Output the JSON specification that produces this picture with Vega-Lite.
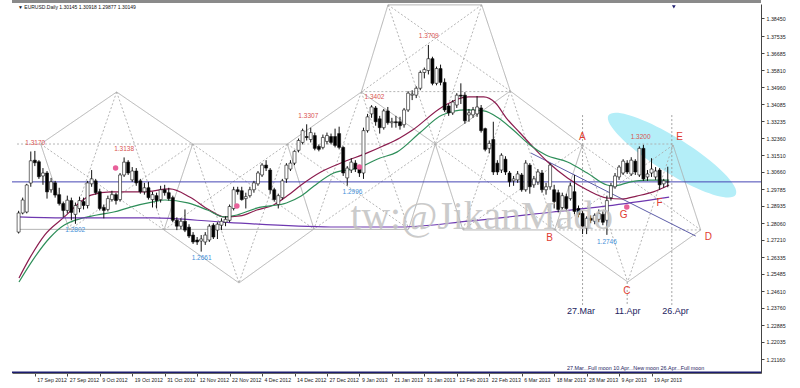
{
"$schema":"https://vega.github.io/schema/vega-lite/v6.json",
"width":749,"height":369,
"autosize":{"type":"none"},
"padding":{"left":12,"top":4,"right":39,"bottom":15},
"background":"white",
"config":{"view":{"stroke":null},"axis":{"grid":false,"title":null,"labelFont":"Liberation Sans"}},
"datasets":{
"k":[
{"i":-4,"o":1.2760,"h":1.2868,"l":1.2753,"c":1.2857},{"i":-3,"o":1.2857,"h":1.2935,"l":1.2850,"c":1.2923},{"i":-2,"o":1.2862,"h":1.3005,"l":1.2855,"c":1.2999},{"i":-1,"o":1.3009,"h":1.3169,"l":1.2990,"c":1.3122},
{"i":0,"o":1.3125,"h":1.3172,"l":1.3095,"c":1.3112},{"i":1,"o":1.3117,"h":1.3125,"l":1.3030,"c":1.3041},{"i":2,"o":1.3045,"h":1.3085,"l":1.3000,"c":1.3060},{"i":3,"o":1.3060,"h":1.3070,"l":1.2930,"c":1.2964},{"i":4,"o":1.2975,"h":1.3035,"l":1.2960,"c":1.3015},
{"i":5,"o":1.3010,"h":1.3020,"l":1.2935,"c":1.2948},{"i":6,"o":1.2950,"h":1.2985,"l":1.2895,"c":1.2905},{"i":7,"o":1.2905,"h":1.2915,"l":1.2835,"c":1.2870},{"i":8,"o":1.2870,"h":1.2945,"l":1.2855,"c":1.2922},{"i":9,"o":1.2920,"h":1.2935,"l":1.2820,"c":1.2860},
{"i":10,"o":1.2850,"h":1.2910,"l":1.2802,"c":1.2895},{"i":11,"o":1.2880,"h":1.2940,"l":1.2860,"c":1.2920},{"i":12,"o":1.2915,"h":1.2935,"l":1.2875,"c":1.2895},{"i":13,"o":1.2895,"h":1.3020,"l":1.2880,"c":1.3010},{"i":14,"o":1.3005,"h":1.3075,"l":1.2990,"c":1.3030},
{"i":15,"o":1.3020,"h":1.3030,"l":1.2950,"c":1.2960},{"i":16,"o":1.2965,"h":1.2980,"l":1.2870,"c":1.2880},{"i":17,"o":1.2885,"h":1.2900,"l":1.2830,"c":1.2870},{"i":18,"o":1.2875,"h":1.2945,"l":1.2865,"c":1.2930},{"i":19,"o":1.2925,"h":1.2970,"l":1.2915,"c":1.2950},
{"i":20,"o":1.2950,"h":1.2960,"l":1.2900,"c":1.2920},{"i":21,"o":1.2925,"h":1.3060,"l":1.2915,"c":1.3050},{"i":22,"o":1.3050,"h":1.3139,"l":1.3040,"c":1.3115},{"i":23,"o":1.3115,"h":1.3125,"l":1.3050,"c":1.3060},{"i":24,"o":1.3025,"h":1.3090,"l":1.3015,"c":1.3070},
{"i":25,"o":1.3070,"h":1.3085,"l":1.2995,"c":1.3010},{"i":26,"o":1.3020,"h":1.3030,"l":1.2955,"c":1.2965},{"i":27,"o":1.2965,"h":1.3010,"l":1.2950,"c":1.2985},{"i":28,"o":1.2985,"h":1.3015,"l":1.2925,"c":1.2935},{"i":29,"o":1.2925,"h":1.2965,"l":1.2885,"c":1.2950},
{"i":30,"o":1.2945,"h":1.2960,"l":1.2880,"c":1.2920},{"i":31,"o":1.2925,"h":1.2995,"l":1.2910,"c":1.2975},{"i":32,"o":1.2975,"h":1.3000,"l":1.2945,"c":1.2960},{"i":33,"o":1.2960,"h":1.2985,"l":1.2920,"c":1.2930},{"i":34,"o":1.2935,"h":1.2945,"l":1.2810,"c":1.2820},
{"i":35,"o":1.2820,"h":1.2835,"l":1.2770,"c":1.2790},{"i":36,"o":1.2790,"h":1.2830,"l":1.2775,"c":1.2815},{"i":37,"o":1.2815,"h":1.2875,"l":1.2760,"c":1.2770},{"i":38,"o":1.2785,"h":1.2800,"l":1.2730,"c":1.2740},{"i":39,"o":1.2745,"h":1.2760,"l":1.2700,"c":1.2710},
{"i":40,"o":1.2720,"h":1.2735,"l":1.2695,"c":1.2710},{"i":41,"o":1.2715,"h":1.2745,"l":1.2661,"c":1.2725},{"i":42,"o":1.2710,"h":1.2760,"l":1.2695,"c":1.2745},{"i":43,"o":1.2720,"h":1.2800,"l":1.2710,"c":1.2790},{"i":44,"o":1.2795,"h":1.2805,"l":1.2725,"c":1.2735},
{"i":45,"o":1.2770,"h":1.2810,"l":1.2725,"c":1.2800},{"i":46,"o":1.2795,"h":1.2830,"l":1.2770,"c":1.2815},{"i":47,"o":1.2810,"h":1.2840,"l":1.2790,"c":1.2825},{"i":48,"o":1.2820,"h":1.2900,"l":1.2810,"c":1.2890},{"i":49,"o":1.2880,"h":1.2990,"l":1.2870,"c":1.2975},
{"i":50,"o":1.2975,"h":1.2990,"l":1.2950,"c":1.2965},{"i":51,"o":1.2970,"h":1.2990,"l":1.2920,"c":1.2925},{"i":52,"o":1.2930,"h":1.2960,"l":1.2880,"c":1.2940},{"i":53,"o":1.2945,"h":1.2990,"l":1.2935,"c":1.2975},{"i":54,"o":1.2975,"h":1.3020,"l":1.2960,"c":1.3010},
{"i":55,"o":1.3005,"h":1.3070,"l":1.2995,"c":1.3060},{"i":56,"o":1.3050,"h":1.3110,"l":1.3040,"c":1.3100},{"i":57,"o":1.3100,"h":1.3125,"l":1.3070,"c":1.3085},{"i":58,"o":1.3075,"h":1.3085,"l":1.2955,"c":1.2975},{"i":59,"o":1.2975,"h":1.2985,"l":1.2915,"c":1.2925},
{"i":60,"o":1.2900,"h":1.2955,"l":1.2880,"c":1.2945},{"i":61,"o":1.2935,"h":1.3030,"l":1.2925,"c":1.3020},{"i":62,"o":1.3030,"h":1.3110,"l":1.3010,"c":1.3100},{"i":63,"o":1.3080,"h":1.3125,"l":1.3070,"c":1.3110},{"i":64,"o":1.3110,"h":1.3175,"l":1.3100,"c":1.3170},
{"i":65,"o":1.3175,"h":1.3235,"l":1.3165,"c":1.3225},{"i":66,"o":1.3215,"h":1.3285,"l":1.3205,"c":1.3275},{"i":67,"o":1.3245,"h":1.3307,"l":1.3225,"c":1.3240},{"i":68,"o":1.3230,"h":1.3290,"l":1.3215,"c":1.3265},{"i":69,"o":1.3250,"h":1.3265,"l":1.3175,"c":1.3185},
{"i":70,"o":1.3195,"h":1.3205,"l":1.3170,"c":1.3180},{"i":71,"o":1.3190,"h":1.3255,"l":1.3180,"c":1.3240},{"i":72,"o":1.3220,"h":1.3265,"l":1.3205,"c":1.3250},{"i":73,"o":1.3245,"h":1.3260,"l":1.3205,"c":1.3215},{"i":74,"o":1.3245,"h":1.3285,"l":1.3190,"c":1.3200},
{"i":75,"o":1.3260,"h":1.3295,"l":1.3180,"c":1.3190},{"i":76,"o":1.3190,"h":1.3195,"l":1.3045,"c":1.3060},{"i":77,"o":1.3035,"h":1.3095,"l":1.2996,"c":1.3085},{"i":78,"o":1.3075,"h":1.3135,"l":1.3060,"c":1.3115},{"i":79,"o":1.3110,"h":1.3125,"l":1.3065,"c":1.3080},
{"i":80,"o":1.3085,"h":1.3100,"l":1.3040,"c":1.3060},{"i":81,"o":1.3060,"h":1.3290,"l":1.3030,"c":1.3275},{"i":82,"o":1.3275,"h":1.3360,"l":1.3265,"c":1.3345},{"i":83,"o":1.3360,"h":1.3404,"l":1.3340,"c":1.3395},{"i":84,"o":1.3390,"h":1.3400,"l":1.3300,"c":1.3320},
{"i":85,"o":1.3335,"h":1.3350,"l":1.3260,"c":1.3290},{"i":86,"o":1.3290,"h":1.3385,"l":1.3280,"c":1.3375},{"i":87,"o":1.3375,"h":1.3395,"l":1.3305,"c":1.3315},{"i":88,"o":1.3315,"h":1.3340,"l":1.3290,"c":1.3320},{"i":89,"o":1.3320,"h":1.3350,"l":1.3290,"c":1.3315},
{"i":90,"o":1.3320,"h":1.3345,"l":1.3280,"c":1.3300},{"i":91,"o":1.3305,"h":1.3390,"l":1.3290,"c":1.3380},{"i":92,"o":1.3380,"h":1.3475,"l":1.3370,"c":1.3465},{"i":93,"o":1.3455,"h":1.3480,"l":1.3430,"c":1.3460},{"i":94,"o":1.3455,"h":1.3500,"l":1.3440,"c":1.3490},
{"i":95,"o":1.3490,"h":1.3580,"l":1.3480,"c":1.3570},{"i":96,"o":1.3570,"h":1.3595,"l":1.3540,"c":1.3585},{"i":97,"o":1.3580,"h":1.3710,"l":1.3560,"c":1.3640},{"i":98,"o":1.3640,"h":1.3650,"l":1.3505,"c":1.3515},{"i":99,"o":1.3515,"h":1.3600,"l":1.3505,"c":1.3590},
{"i":100,"o":1.3590,"h":1.3610,"l":1.3505,"c":1.3520},{"i":101,"o":1.3520,"h":1.3540,"l":1.3370,"c":1.3380},{"i":102,"o":1.3400,"h":1.3410,"l":1.3350,"c":1.3365},{"i":103,"o":1.3365,"h":1.3430,"l":1.3355,"c":1.3420},{"i":104,"o":1.3405,"h":1.3465,"l":1.3390,"c":1.3455},
{"i":105,"o":1.3455,"h":1.3515,"l":1.3410,"c":1.3450},{"i":106,"o":1.3455,"h":1.3470,"l":1.3310,"c":1.3325},{"i":107,"o":1.3355,"h":1.3385,"l":1.3320,"c":1.3365},{"i":108,"o":1.3355,"h":1.3395,"l":1.3340,"c":1.3380},{"i":109,"o":1.3360,"h":1.3450,"l":1.3345,"c":1.3395},
{"i":110,"o":1.3390,"h":1.3405,"l":1.3265,"c":1.3275},{"i":111,"o":1.3285,"h":1.3290,"l":1.3170,"c":1.3180},{"i":112,"o":1.3185,"h":1.3225,"l":1.3160,"c":1.3210},{"i":113,"o":1.3230,"h":1.3320,"l":1.3050,"c":1.3065},{"i":114,"o":1.3110,"h":1.3125,"l":1.3050,"c":1.3065},
{"i":115,"o":1.3075,"h":1.3160,"l":1.3060,"c":1.3150},{"i":116,"o":1.3130,"h":1.3145,"l":1.3050,"c":1.3065},{"i":117,"o":1.3060,"h":1.3070,"l":1.2990,"c":1.3015},{"i":118,"o":1.3020,"h":1.3045,"l":1.2995,"c":1.3030},{"i":119,"o":1.3025,"h":1.3070,"l":1.3010,"c":1.3055},
{"i":120,"o":1.3050,"h":1.3060,"l":1.2965,"c":1.2975},{"i":121,"o":1.2975,"h":1.3125,"l":1.2965,"c":1.3110},{"i":122,"o":1.3100,"h":1.3110,"l":1.2955,"c":1.2990},{"i":123,"o":1.3000,"h":1.3045,"l":1.2985,"c":1.3030},{"i":124,"o":1.3015,"h":1.3080,"l":1.3000,"c":1.3065},
{"i":125,"o":1.3060,"h":1.3075,"l":1.2960,"c":1.2975},{"i":126,"o":1.2975,"h":1.3010,"l":1.2950,"c":1.2990},{"i":127,"o":1.2990,"h":1.3110,"l":1.2975,"c":1.3100},{"i":128,"o":1.2975,"h":1.3000,"l":1.2880,"c":1.2915},{"i":129,"o":1.2960,"h":1.2975,"l":1.2860,"c":1.2875},
{"i":130,"o":1.2885,"h":1.2960,"l":1.2875,"c":1.2945},{"i":131,"o":1.2940,"h":1.2955,"l":1.2865,"c":1.2880},{"i":132,"o":1.2930,"h":1.3010,"l":1.2920,"c":1.2995},{"i":133,"o":1.2965,"h":1.3050,"l":1.2850,"c":1.2865},{"i":134,"o":1.2880,"h":1.2895,"l":1.2835,"c":1.2850},
{"i":135,"o":1.2855,"h":1.2870,"l":1.2750,"c":1.2790},{"i":136,"o":1.2780,"h":1.2840,"l":1.2750,"c":1.2830},{"i":137,"o":1.2830,"h":1.2845,"l":1.2805,"c":1.2820},{"i":138,"o":1.2815,"h":1.2855,"l":1.2800,"c":1.2845},{"i":139,"o":1.2825,"h":1.2875,"l":1.2810,"c":1.2855},
{"i":140,"o":1.2850,"h":1.2865,"l":1.2795,"c":1.2810},{"i":141,"o":1.2820,"h":1.2945,"l":1.2746,"c":1.2920},{"i":142,"o":1.2935,"h":1.3010,"l":1.2920,"c":1.2995},{"i":143,"o":1.2990,"h":1.3060,"l":1.2980,"c":1.3045},{"i":144,"o":1.3040,"h":1.3100,"l":1.3025,"c":1.3090},
{"i":145,"o":1.3060,"h":1.3130,"l":1.3050,"c":1.3120},{"i":146,"o":1.3110,"h":1.3125,"l":1.3055,"c":1.3065},{"i":147,"o":1.3055,"h":1.3140,"l":1.3045,"c":1.3125},{"i":148,"o":1.3120,"h":1.3130,"l":1.3050,"c":1.3065},{"i":149,"o":1.3050,"h":1.3195,"l":1.3040,"c":1.3185},
{"i":150,"o":1.3185,"h":1.3203,"l":1.3020,"c":1.3030},{"i":151,"o":1.3040,"h":1.3075,"l":1.3020,"c":1.3055},{"i":152,"o":1.3060,"h":1.3135,"l":1.3040,"c":1.3080},{"i":153,"o":1.3040,"h":1.3090,"l":1.3025,"c":1.3070},{"i":154,"o":1.3075,"h":1.3085,"l":1.2975,"c":1.3000},
{"i":155,"o":1.3005,"h":1.3030,"l":1.2985,"c":1.3020},{"i":156,"o":1.30145,"h":1.30918,"l":1.29877,"c":1.30149}
],
"ma":[
{"m":"f","i":-3.91,"p":1.2527},{"m":"f","i":-1.24,"p":1.2629},{"m":"f","i":2.41,"p":1.2745},{"m":"f","i":7.27,"p":1.2837},{"m":"f","i":10.92,"p":1.2908},{"m":"f","i":13.84,"p":1.2948},{"m":"f","i":18.7,"p":1.2964},{"m":"f","i":26.73,"p":1.2964},{"m":"f","i":33.3,"p":1.2979},{"m":"f","i":38.16,"p":1.2938},{"m":"f","i":43.03,"p":1.2872},{"m":"f","i":46.67,"p":1.2837},{"m":"f","i":50.56,"p":1.2842},{"m":"f","i":54.7,"p":1.2872},{"m":"f","i":58.83,"p":1.2898},{"m":"f","i":62.48,"p":1.2948},{"m":"f","i":65.64,"p":1.2999},{"m":"f","i":70.5,"p":1.3065},{"m":"f","i":76.09,"p":1.3116},{"m":"f","i":81.93,"p":1.3162},{"m":"f","i":85.82,"p":1.3197},{"m":"f","i":89.95,"p":1.3238},{"m":"f","i":93.11,"p":1.3278},{"m":"f","i":100.41,"p":1.3395},{"m":"f","i":106.97,"p":1.3446},{"m":"f","i":110.62,"p":1.3446},{"m":"f","i":113.54,"p":1.3415},{"m":"f","i":116.22,"p":1.3339},{"m":"f","i":119.62,"p":1.3263},{"m":"f","i":122.78,"p":1.3192},{"m":"f","i":126.43,"p":1.3116},{"m":"f","i":131.29,"p":1.3035},{"m":"f","i":136.16,"p":1.2974},{"m":"f","i":141.02,"p":1.2933},{"m":"f","i":144.67,"p":1.2928},{"m":"f","i":148.32,"p":1.2943},{"m":"f","i":152.45,"p":1.2964},{"m":"f","i":156.34,"p":1.2999},
{"m":"s","i":-3.91,"p":1.2507},{"m":"s","i":-0.51,"p":1.2618},{"m":"s","i":3.63,"p":1.2730},{"m":"s","i":7.27,"p":1.2796},{"m":"s","i":15.3,"p":1.2847},{"m":"s","i":19.43,"p":1.2862},{"m":"s","i":23.57,"p":1.2887},{"m":"s","i":29.16,"p":1.2913},{"m":"s","i":32.08,"p":1.2923},{"m":"s","i":37.68,"p":1.2908},{"m":"s","i":42.54,"p":1.2872},{"m":"s","i":46.67,"p":1.2837},{"m":"s","i":49.83,"p":1.2847},{"m":"s","i":54.7,"p":1.2882},{"m":"s","i":62.0,"p":1.2908},{"m":"s","i":65.64,"p":1.2943},{"m":"s","i":68.81,"p":1.2994},{"m":"s","i":73.67,"p":1.3060},{"m":"s","i":79.51,"p":1.3085},{"m":"s","i":85.1,"p":1.3136},{"m":"s","i":89.23,"p":1.3166},{"m":"s","i":94.83,"p":1.3263},{"m":"s","i":100.41,"p":1.3354},{"m":"s","i":106.25,"p":1.3380},{"m":"s","i":110.62,"p":1.3375},{"m":"s","i":114.27,"p":1.3339},{"m":"s","i":117.92,"p":1.3278},{"m":"s","i":122.05,"p":1.3202},{"m":"s","i":125.94,"p":1.3151},{"m":"s","i":131.29,"p":1.3116},{"m":"s","i":136.16,"p":1.3060},{"m":"s","i":141.02,"p":1.2999},{"m":"s","i":142.72,"p":1.2994},{"m":"s","i":146.61,"p":1.3014},{"m":"s","i":150.75,"p":1.3024},{"m":"s","i":156.34,"p":1.3024},
{"m":"l","i":-4.4,"p":1.2837},{"m":"l","i":7.27,"p":1.2832},{"m":"l","i":29.16,"p":1.2832},{"m":"l","i":46.18,"p":1.2811},{"m":"l","i":72.94,"p":1.2786},{"m":"l","i":89.95,"p":1.2786},{"m":"l","i":106.97,"p":1.2816},{"m":"l","i":127.65,"p":1.2862},{"m":"l","i":141.02,"p":1.2893},{"m":"l","i":156.34,"p":1.2938}
],
"geo":[
{"g":"s1","s":"s","o":0,"i":20.16,"p":1.3471},{"g":"s1","s":"s","o":1,"i":1.437,"p":1.3207},
{"g":"s2","s":"s","o":0,"i":20.16,"p":1.3471},{"g":"s2","s":"s","o":1,"i":38.89,"p":1.3207},
{"g":"s3","s":"s","o":0,"i":1.437,"p":1.3207},{"g":"s3","s":"s","o":1,"i":8.49,"p":1.2771},
{"g":"s4","s":"s","o":0,"i":38.89,"p":1.3207},{"g":"s4","s":"s","o":1,"i":31.83,"p":1.2771},
{"g":"s5","s":"s","o":0,"i":38.89,"p":1.3207},{"g":"s5","s":"s","o":1,"i":62.23,"p":1.3207},
{"g":"s6","s":"s","o":0,"i":31.83,"p":1.2771},{"g":"s6","s":"s","o":1,"i":50.32,"p":1.2502},
{"g":"s7","s":"s","o":0,"i":50.32,"p":1.2502},{"g":"s7","s":"s","o":1,"i":68.8,"p":1.2776},
{"g":"s8","s":"s","o":0,"i":62.23,"p":1.3207},{"g":"s8","s":"s","o":1,"i":68.8,"p":1.2776},
{"g":"s9","s":"s","o":0,"i":-4.4,"p":1.2774},{"g":"s9","s":"s","o":1,"i":92.14,"p":1.2774},
{"g":"s10","s":"s","o":0,"i":80.47,"p":1.3471},{"g":"s10","s":"s","o":1,"i":62.23,"p":1.3207},
{"g":"s11","s":"s","o":0,"i":80.47,"p":1.3471},{"g":"s11","s":"s","o":1,"i":98.71,"p":1.3207},
{"g":"s12","s":"s","o":0,"i":98.71,"p":1.3207},{"g":"s12","s":"s","o":1,"i":92.14,"p":1.2776},
{"g":"s13","s":"s","o":0,"i":87.04,"p":1.3913},{"g":"s13","s":"s","o":1,"i":110.14,"p":1.3913},
{"g":"s14","s":"s","o":0,"i":87.04,"p":1.3913},{"g":"s14","s":"s","o":1,"i":80.47,"p":1.3471},
{"g":"s15","s":"s","o":0,"i":110.14,"p":1.3913},{"g":"s15","s":"s","o":1,"i":117.19,"p":1.3476},
{"g":"s16","s":"s","o":0,"i":98.71,"p":1.3207},{"g":"s16","s":"s","o":1,"i":117.19,"p":1.3476},
{"g":"s17","s":"s","o":0,"i":117.19,"p":1.3476},{"g":"s17","s":"s","o":1,"i":134.95,"p":1.3202},
{"g":"s18","s":"s","o":0,"i":134.95,"p":1.3202},{"g":"s18","s":"s","o":1,"i":128.14,"p":1.2771},
{"g":"s19","s":"s","o":0,"i":157.31,"p":1.3202},{"g":"s19","s":"s","o":1,"i":164.12,"p":1.2771},
{"g":"s20","s":"s","o":0,"i":128.14,"p":1.2771},{"g":"s20","s":"s","o":1,"i":146.13,"p":1.2507},
{"g":"s21","s":"s","o":0,"i":146.13,"p":1.2507},{"g":"s21","s":"s","o":1,"i":164.12,"p":1.2771},
{"g":"s22","s":"s","o":0,"i":98.71,"p":1.3207},{"g":"s22","s":"s","o":1,"i":105.52,"p":1.2771},
{"g":"s23","s":"s","o":0,"i":105.52,"p":1.2771},{"g":"s23","s":"s","o":1,"i":128.14,"p":1.2771},
{"g":"d22","s":"d","o":0,"i":-4.4,"p":1.3207},{"g":"d22","s":"d","o":1,"i":38.89,"p":1.3207},
{"g":"d23","s":"d","o":0,"i":20.16,"p":1.3471},{"g":"d23","s":"d","o":1,"i":8.49,"p":1.2771},
{"g":"d24","s":"d","o":0,"i":20.16,"p":1.3471},{"g":"d24","s":"d","o":1,"i":31.83,"p":1.2771},
{"g":"d25","s":"d","o":0,"i":1.437,"p":1.3207},{"g":"d25","s":"d","o":1,"i":31.83,"p":1.2771},
{"g":"d26","s":"d","o":0,"i":38.89,"p":1.3207},{"g":"d26","s":"d","o":1,"i":8.49,"p":1.2771},
{"g":"d27","s":"d","o":0,"i":38.89,"p":1.3207},{"g":"d27","s":"d","o":1,"i":68.8,"p":1.2776},
{"g":"d28","s":"d","o":0,"i":38.89,"p":1.3207},{"g":"d28","s":"d","o":1,"i":50.32,"p":1.2502},
{"g":"d29","s":"d","o":0,"i":62.23,"p":1.3207},{"g":"d29","s":"d","o":1,"i":31.83,"p":1.2771},
{"g":"d30","s":"d","o":0,"i":62.23,"p":1.3207},{"g":"d30","s":"d","o":1,"i":50.32,"p":1.2502},
{"g":"d31","s":"d","o":0,"i":80.47,"p":1.3471},{"g":"d31","s":"d","o":1,"i":68.8,"p":1.2776},
{"g":"d32","s":"d","o":0,"i":80.47,"p":1.3471},{"g":"d32","s":"d","o":1,"i":92.14,"p":1.2776},
{"g":"d33","s":"d","o":0,"i":62.23,"p":1.3207},{"g":"d33","s":"d","o":1,"i":134.95,"p":1.3207},
{"g":"d34","s":"d","o":0,"i":62.23,"p":1.3207},{"g":"d34","s":"d","o":1,"i":92.14,"p":1.2776},
{"g":"d35","s":"d","o":0,"i":98.71,"p":1.3207},{"g":"d35","s":"d","o":1,"i":68.8,"p":1.2776},
{"g":"d36","s":"d","o":0,"i":87.04,"p":1.3913},{"g":"d36","s":"d","o":1,"i":117.19,"p":1.3476},
{"g":"d37","s":"d","o":0,"i":87.04,"p":1.3913},{"g":"d37","s":"d","o":1,"i":98.71,"p":1.3207},
{"g":"d38","s":"d","o":0,"i":110.14,"p":1.3913},{"g":"d38","s":"d","o":1,"i":80.47,"p":1.3471},
{"g":"d39","s":"d","o":0,"i":110.14,"p":1.3913},{"g":"d39","s":"d","o":1,"i":98.71,"p":1.3207},
{"g":"d40","s":"d","o":0,"i":80.47,"p":1.3473},{"g":"d40","s":"d","o":1,"i":117.19,"p":1.3473},
{"g":"d41","s":"d","o":0,"i":134.95,"p":1.3207},{"g":"d41","s":"d","o":1,"i":157.31,"p":1.3207},
{"g":"d42","s":"d","o":0,"i":134.95,"p":1.3202},{"g":"d42","s":"d","o":1,"i":164.12,"p":1.2771},
{"g":"d43","s":"d","o":0,"i":134.95,"p":1.3202},{"g":"d43","s":"d","o":1,"i":146.13,"p":1.2507},
{"g":"d44","s":"d","o":0,"i":157.31,"p":1.3202},{"g":"d44","s":"d","o":1,"i":128.14,"p":1.2771},
{"g":"d45","s":"d","o":0,"i":157.31,"p":1.3202},{"g":"d45","s":"d","o":1,"i":146.13,"p":1.2507},
{"g":"d46","s":"d","o":0,"i":128.14,"p":1.2771},{"g":"d46","s":"d","o":1,"i":164.12,"p":1.2771},
{"g":"d47","s":"d","o":0,"i":117.19,"p":1.3476},{"g":"d47","s":"d","o":1,"i":105.52,"p":1.2771},
{"g":"d48","s":"d","o":0,"i":117.19,"p":1.3476},{"g":"d48","s":"d","o":1,"i":128.14,"p":1.2771},
{"g":"d49","s":"d","o":0,"i":98.71,"p":1.3207},{"g":"d49","s":"d","o":1,"i":128.14,"p":1.2771},
{"g":"d50","s":"d","o":0,"i":134.95,"p":1.3202},{"g":"d50","s":"d","o":1,"i":105.52,"p":1.2771}
]
},
"encoding":{
"x":{"field":"i","type":"quantitative","scale":{"domain":[-4.4,177.75],"nice":false,"zero":false},
 "axis":{"values":[0,8,16,24,32,40,48,56,64,72,80,88,96,104,112,120,128,136,144,152],
 "labelExpr":"['17 Sep 2012','27 Sep 2012','9 Oct 2012','19 Oct 2012','31 Oct 2012','12 Nov 2012','22 Nov 2012','4 Dec 2012','14 Dec 2012','27 Dec 2012','9 Jan 2013','21 Jan 2013','31 Jan 2013','12 Feb 2013','22 Feb 2013','6 Mar 2013','18 Mar 2013','28 Mar 2013','9 Apr 2013','19 Apr 2013'][datum.value/8]",
 "labelAlign":"left","labelOffset":2,"labelFontSize":5.2,"labelColor":"#222","tickSize":3,"tickColor":"#444","domainColor":"#666","labelPadding":1,"labelFlush":false,"labelOverlap":false}},
"y":{"field":"p","type":"quantitative","scale":{"domain":[1.2045,1.39176],"nice":false,"zero":false},
 "axis":{"orient":"right","values":[1.3845,1.37535,1.36685,1.3581,1.3496,1.34085,1.33235,1.3236,1.3151,1.3066,1.29785,1.28935,1.2806,1.2721,1.26335,1.25485,1.2461,1.2376,1.22885,1.22035,1.2116],
 "format":".5f","labelFontSize":5.3,"labelColor":"#222","tickSize":3,"tickColor":"#444","domainColor":"#444","labelPadding":2,"labelOverlap":false,"labelFlush":false}}
},
"layer":[
{"data":{"values":[{"i":157.07,"p":1.3151}]},"mark":{"type":"point","shape":"M-1,0A1,0.233,0,1,0,1,0A1,0.233,0,1,0,-1,0Z","size":22500,"angle":32,"filled":true,"color":"#b4eef8","opacity":1}},
{"data":{"name":"geo"},"mark":{"type":"line","color":"#ababab","strokeWidth":0.9},"encoding":{"detail":{"field":"g"},"order":{"field":"o"},"strokeDash":{"field":"s","type":"nominal","scale":{"domain":["s","d"],"range":[[1,0],[2,2]]},"legend":null}}},
{"data":{"values":[{"i":135,"p":1.3354,"p2":1.2390},{"i":146,"p":1.2507,"p2":1.2390},{"i":157,"p":1.3354,"p2":1.2390}]},"mark":{"type":"rule","color":"#999","strokeDash":[2,2],"strokeWidth":0.9},"encoding":{"y2":{"field":"p2"}}},
{"data":{"values":[{"p":1.30149}]},"mark":{"type":"rule","color":"#4646b4","strokeWidth":1},"encoding":{"x":null}},
{"data":{"values":[{"p":1.2049}]},"mark":{"type":"rule","color":"#1c1c6e","strokeWidth":1.5},"encoding":{"x":null}},
{"data":{"values":[{"p":1.3930}]},"mark":{"type":"rule","color":"#8a8a8a","strokeWidth":3},"encoding":{"x":null}},
{"data":{"values":[{"i":122.3,"p":1.3161,"o":0},{"i":162.9,"p":1.2740,"o":1}]},"mark":{"type":"line","color":"#5c5ca8","strokeWidth":1},"encoding":{"order":{"field":"o"}}},
{"data":{"name":"ma"},"mark":{"type":"line","strokeWidth":1.2,"interpolate":"monotone"},"encoding":{"color":{"field":"m","type":"nominal","scale":{"domain":["f","s","l"],"range":["#8b1c4e","#2f8f5a","#6e38b0"]},"legend":null}}},
{"data":{"name":"k"},"mark":{"type":"rule","color":"#111","strokeWidth":1},"encoding":{"y":{"field":"l","type":"quantitative","scale":{"domain":[1.2045,1.39176],"nice":false,"zero":false},
 "axis":{"orient":"right","values":[1.3845,1.37535,1.36685,1.3581,1.3496,1.34085,1.33235,1.3236,1.3151,1.3066,1.29785,1.28935,1.2806,1.2721,1.26335,1.25485,1.2461,1.2376,1.22885,1.22035,1.2116],
 "format":".5f","labelFontSize":5.3,"labelColor":"#222","tickSize":3,"tickColor":"#444","domainColor":"#444","labelPadding":2,"labelOverlap":false,"labelFlush":false}},"y2":{"field":"h"}}},
{"data":{"name":"k"},"mark":{"type":"bar","width":3,"stroke":"#111","strokeWidth":0.6},"encoding":{"y":{"field":"o","type":"quantitative","scale":{"domain":[1.2045,1.39176],"nice":false,"zero":false},
 "axis":{"orient":"right","values":[1.3845,1.37535,1.36685,1.3581,1.3496,1.34085,1.33235,1.3236,1.3151,1.3066,1.29785,1.28935,1.2806,1.2721,1.26335,1.25485,1.2461,1.2376,1.22885,1.22035,1.2116],
 "format":".5f","labelFontSize":5.3,"labelColor":"#222","tickSize":3,"tickColor":"#444","domainColor":"#444","labelPadding":2,"labelOverlap":false,"labelFlush":false}},"y2":{"field":"c"},"fill":{"condition":{"test":"datum.c >= datum.o","value":"#ffffff"},"value":"#000000"}}},
{"data":{"values":[{"i":19.9,"p":1.3085},{"i":49.8,"p":1.2893},{"i":80.0,"p":1.3090},{"i":145.9,"p":1.2887}]},"mark":{"type":"point","filled":true,"color":"#e8609a","size":30,"opacity":1}},
{"data":{"values":[{"i":0.1,"p":1.3211,"t":"1.3170"},{"i":22.0,"p":1.3182,"t":"1.3138"},{"i":67.4,"p":1.3349,"t":"1.3307"},{"i":83.7,"p":1.3446,"t":"1.3402"},{"i":97.1,"p":1.3755,"t":"1.3709"},{"i":149.3,"p":1.3244,"t":"1.3200"}]},"mark":{"type":"text","color":"#d9534f","fontSize":6.5,"font":"Liberation Sans"},"encoding":{"text":{"field":"t"}}},
{"data":{"values":[{"i":9.95,"p":1.2771,"t":"1.2802"},{"i":41.1,"p":1.2630,"t":"1.2661"},{"i":78.3,"p":1.2965,"t":"1.2996"},{"i":141.0,"p":1.2708,"t":"1.2746"}]},"mark":{"type":"text","color":"#3f8fd8","fontSize":6.5,"font":"Liberation Sans"},"encoding":{"text":{"field":"t"}}},
{"data":{"values":[{"i":77.8,"p":1.2778,"t":"tw:@JikanMado"}]},"mark":{"type":"text","color":"#c2c2c2","opacity":0.85,"fontSize":39.5,"align":"left","baseline":"alphabetic","font":"Liberation Serif"},"encoding":{"text":{"field":"t"}}},
{"data":{"values":[{"i":134.95,"p":1.3241,"t":"A"},{"i":126.9,"p":1.2730,"t":"B"},{"i":145.9,"p":1.2463,"t":"C"},{"i":166.0,"p":1.2737,"t":"D"},{"i":158.9,"p":1.3241,"t":"E"},{"i":154.0,"p":1.2906,"t":"F"},{"i":145.1,"p":1.2847,"t":"G"}]},"mark":{"type":"text","color":"#e03c31","fontSize":10,"font":"Liberation Sans"},"encoding":{"text":{"field":"t"}}},
{"data":{"values":[{"i":134.6,"p":1.2361,"t":"27.Mar"},{"i":146.1,"p":1.2361,"t":"11.Apr"},{"i":157.9,"p":1.2361,"t":"26.Apr"}]},"mark":{"type":"text","color":"#23235e","fontSize":9,"font":"Liberation Sans"},"encoding":{"text":{"field":"t"}}},
{"data":{"values":[{"i":148.1,"p":1.2069,"t":"27.Mar...Full moon  10.Apr...New moon  26.Apr...Full moon"}]},"mark":{"type":"text","color":"#23235e","fontSize":5.4,"font":"Liberation Sans"},"encoding":{"text":{"field":"t"}}},
{"data":{"values":[{"i":-4.16,"p":1.3902,"t":"▼ EURUSD.Daily  1.30145 1.30918 1.29877 1.30149"}]},"mark":{"type":"text","color":"#111","fontSize":5,"align":"left","font":"Liberation Sans"},"encoding":{"text":{"field":"t"}}},
{"data":{"values":[{"i":157.5,"p":1.3903}]},"mark":{"type":"point","shape":"triangle-down","filled":true,"color":"#1c1c6e","size":14,"opacity":1}},
{"data":{"values":[{"p":1.3364,"p2":1.2948}]},"mark":{"type":"rule","color":"#8b1a1a","strokeWidth":2},"encoding":{"x":{"datum":177.75,"type":"quantitative"},"y2":{"field":"p2"}}},
{"data":{"values":[{"t":"1.30149","p":1.30149,"bg":"#000000"},{"t":"1.20409","p":1.20409,"bg":"#1c1c78"}]},"mark":{"type":"point","shape":"M0,-1H7.3V1H0Z","size":64,"filled":true,"opacity":1,"xOffset":1},"encoding":{"x":{"datum":177.75,"type":"quantitative"},"color":{"field":"bg","type":"nominal","scale":null}}},
{"data":{"values":[{"t":"1.30149","p":1.30149},{"t":"1.20409","p":1.20409}]},"mark":{"type":"text","color":"#ffffff","fontSize":5.3,"align":"left","dx":3,"font":"Liberation Sans"},"encoding":{"x":{"datum":177.75,"type":"quantitative"},"text":{"field":"t"}}}
]
}
